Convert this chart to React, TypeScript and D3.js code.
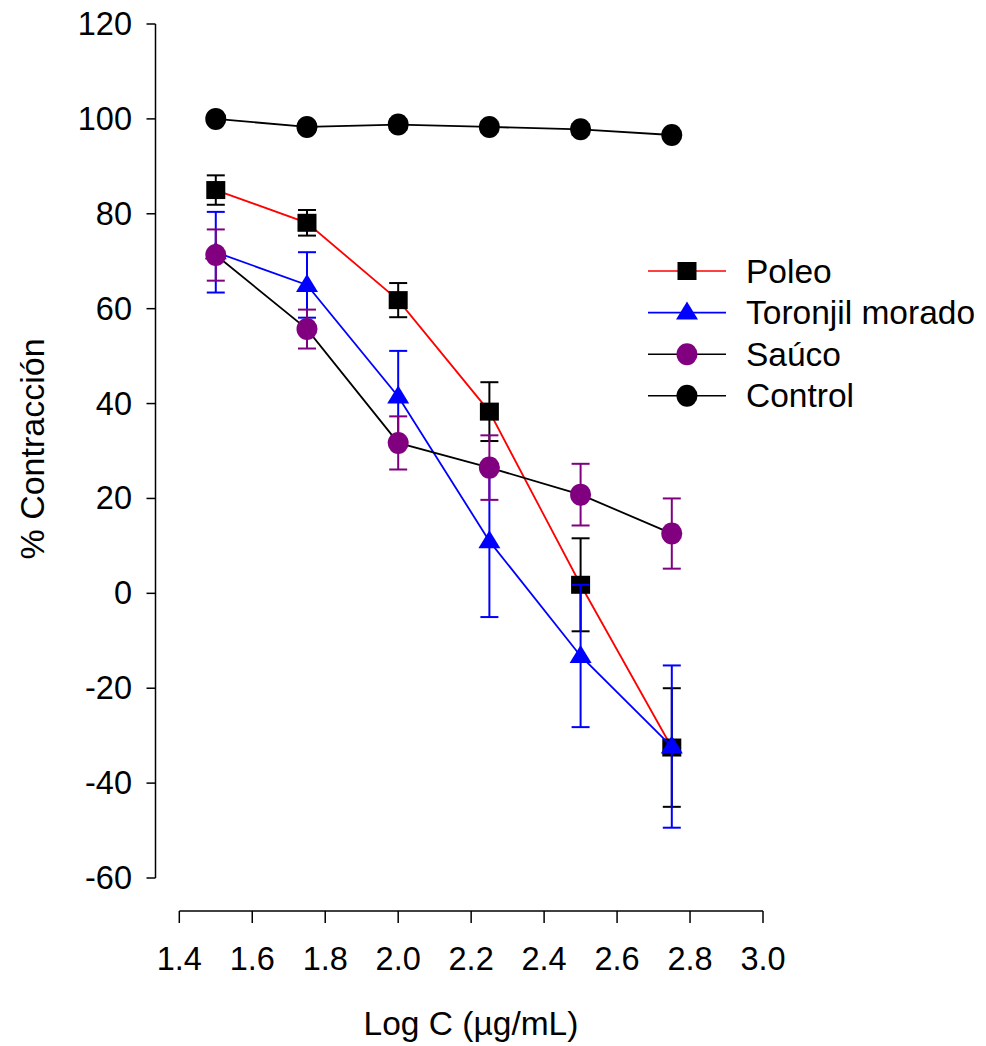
import React from "react";
import * as d3 from "d3";

const logC = [1.5, 1.75, 2.0, 2.25, 2.5, 2.75];

const poleoMean = [85.0, 78.1, 61.8, 38.3, 1.8, -32.5];
const poleoErr = [3.1, 2.7, 3.6, 6.2, 9.8, 12.5];

const toronjilMean = [71.9, 65.0, 41.5, 11.0, -13.2, -32.3];
const toronjilErr = [8.5, 6.9, 9.6, 16.0, 15.0, 17.1];

const saucoMean = [71.3, 55.7, 31.7, 26.5, 20.8, 12.6];
const saucoErr = [5.4, 4.1, 5.6, 6.8, 6.5, 7.4];

const controlMean = [100.0, 98.3, 98.8, 98.3, 97.8, 96.6];
const controlErr = [0.8, 1.1, 1.1, 1.1, 1.1, 0.8];

const xTicks = [1.4, 1.6, 1.8, 2.0, 2.2, 2.4, 2.6, 2.8, 3.0];
const yTicks = [-60, -40, -20, 0, 20, 40, 60, 80, 100, 120];

const seriesNames = ["Poleo", "Toronjil morado", "Saúco", "Control"];

type Series = {
  name: string;
  mean: number[];
  err: number[];
  lineColor: string;
  markerColor: string;
  errColor: string;
  shape: "square" | "triangle" | "circle";
};

const series: Series[] = [
  { name: seriesNames[0], mean: poleoMean, err: poleoErr, lineColor: "#ff0000", markerColor: "#000000", errColor: "#000000", shape: "square" },
  { name: seriesNames[1], mean: toronjilMean, err: toronjilErr, lineColor: "#0000ff", markerColor: "#0000ff", errColor: "#0000ff", shape: "triangle" },
  { name: seriesNames[2], mean: saucoMean, err: saucoErr, lineColor: "#000000", markerColor: "#800080", errColor: "#800080", shape: "circle" },
  { name: seriesNames[3], mean: controlMean, err: controlErr, lineColor: "#000000", markerColor: "#000000", errColor: "#000000", shape: "circle" },
];

const FONT = "'Liberation Sans', Arial, Helvetica, sans-serif";

function Marker({ shape, cx, cy, color }: { shape: string; cx: number; cy: number; color: string }) {
  if (shape === "square") {
    return <rect x={cx - 9.5} y={cy - 9} width={19} height={18} fill={color} />;
  }
  if (shape === "triangle") {
    const w = 11;
    return <path d={`M${cx},${cy - 11}L${cx + w},${cy + 7}L${cx - w},${cy + 7}Z`} fill={color} />;
  }
  return <ellipse cx={cx} cy={cy} rx={10.5} ry={11} fill={color} />;
}

export default function App() {
  const width = 986;
  const height = 1046;
  const x = d3.scaleLinear().domain([1.4, 3.0]).range([179.3, 763]);
  const y = d3.scaleLinear().domain([-60, 120]).range([878, 24]);
  const axisX = 155.5;
  const axisY = 911;
  const line = d3
    .line<number>()
    .x((_, i) => x(logC[i]))
    .y((d) => y(d));
  const cap = 9;

  return (
    <svg width={width} height={height} style={{ position: "absolute", left: 0, top: 0, background: "#fff" }} fontFamily={FONT}>
      <rect width={width} height={height} fill="#fff" />
      {/* Y axis */}
      <line x1={axisX} x2={axisX} y1={y(120)} y2={y(-60)} stroke="#000" strokeWidth={1.5} />
      {yTicks.map((t) => (
        <g key={t}>
          <line x1={axisX - 9} x2={axisX} y1={y(t)} y2={y(t)} stroke="#000" strokeWidth={1.5} />
          <text x={132} y={y(t) + 11} textAnchor="end" fontSize={32.5} fill="#000">
            {t}
          </text>
        </g>
      ))}
      {/* X axis */}
      <line x1={x(1.4)} x2={x(3.0)} y1={axisY} y2={axisY} stroke="#000" strokeWidth={1.5} />
      {xTicks.map((t) => (
        <g key={t}>
          <line x1={x(t)} x2={x(t)} y1={axisY} y2={axisY + 12} stroke="#000" strokeWidth={1.5} />
          <text x={x(t)} y={970} textAnchor="middle" fontSize={32.5} fill="#000">
            {t.toFixed(1)}
          </text>
        </g>
      ))}
      <text x={471} y={1035} textAnchor="middle" fontSize={33.5} fill="#000">
        Log C (µg/mL)
      </text>
      <text transform="translate(44,449) rotate(-90)" textAnchor="middle" fontSize={34} fill="#000">
        % Contracción
      </text>

      {/* Series */}
      {series.map((s) => (
        <g key={s.name}>
          <path d={line(s.mean) || ""} fill="none" stroke={s.lineColor} strokeWidth={1.8} />
          {s.mean.map((m, i) => {
            const cx = x(logC[i]);
            const top = y(m + s.err[i]);
            const bot = y(m - s.err[i]);
            return (
              <g key={i} stroke={s.errColor} strokeWidth={2}>
                <line x1={cx} x2={cx} y1={top} y2={bot} />
                <line x1={cx - cap} x2={cx + cap} y1={top} y2={top} />
                <line x1={cx - cap} x2={cx + cap} y1={bot} y2={bot} />
              </g>
            );
          })}
          {s.mean.map((m, i) => (
            <Marker key={i} shape={s.shape} cx={x(logC[i])} cy={y(m)} color={s.markerColor} />
          ))}
        </g>
      ))}

      {/* Legend */}
      {series.map((s, i) => {
        const cy = 271 + i * 41.6;
        return (
          <g key={s.name}>
            <line x1={648} x2={726} y1={cy} y2={cy} stroke={s.lineColor} strokeWidth={1.6} />
            <Marker shape={s.shape} cx={687} cy={cy} color={s.markerColor} />
            <text x={746} y={cy + 11.5} fontSize={33.5} fill="#000">
              {s.name}
            </text>
          </g>
        );
      })}
    </svg>
  );
}
